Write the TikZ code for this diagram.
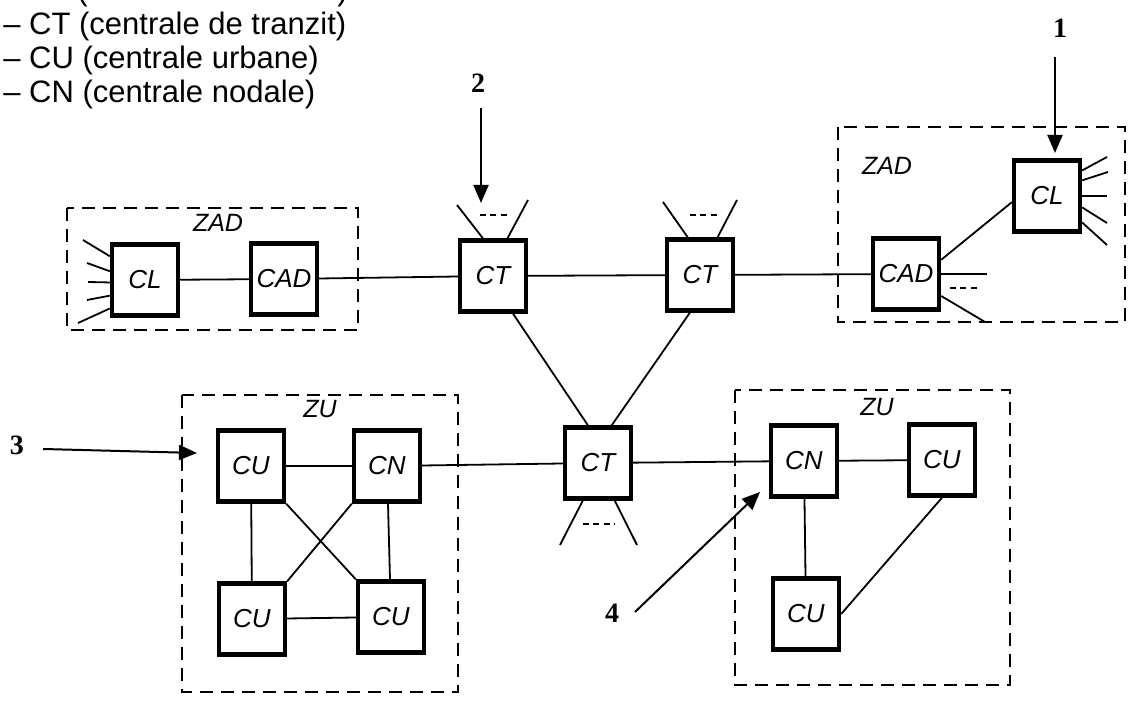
\documentclass[tikz,border=0pt]{standalone}
\usepackage{fontspec}
\setmainfont{Liberation Sans}
\newfontfamily\numfont{Liberation Serif}
\usetikzlibrary{arrows.meta}
\begin{document}
\begin{tikzpicture}[x=0.5pt,y=-0.5pt,
  box/.style={draw, line width=2.2pt, minimum width=33pt, minimum height=35.5pt,
    inner sep=0pt, font=\itshape\fontsize{13}{15}\selectfont},
  zone/.style={draw, line width=1pt, dash pattern=on 6.5pt off 4pt},
  link/.style={line width=0.9pt},
  more/.style={line width=0.9pt, dash pattern=on 3pt off 2.2pt},
  pointer/.style={line width=1pt, -{Triangle[length=9pt,width=7.5pt]}},
  zlabel/.style={font=\itshape\fontsize{12.5}{14}\selectfont, inner sep=0pt},
  num/.style={font=\numfont\bfseries\fontsize{14}{16}\selectfont, inner sep=0pt},
  legend/.style={font=\fontsize{15.5}{18}\selectfont, anchor=base west, inner sep=0pt}]
\useasboundingbox (0,0) rectangle (1132,715);
\clip (0,0) rectangle (1132,715);

% legend lines (the first one runs off the top edge)
\node[legend] (pa) at (77,1) {(};
\node[legend] (pb) at (337,1) {)};
\node[legend] (l1) at (3,35) {– CT (centrale de tranzit)};
\node[legend] (l2) at (3,69) {– CU (centrale urbane)};
\node[legend] (l3) at (3,103) {– CN (centrale nodale)};

% zones
\draw[zone] (67,208) rectangle (358,330);
\draw[zone] (838,127) rectangle (1125,322);
\draw[zone] (182,395) rectangle (458,692);
\draw[zone] (735,390) rectangle (1010,685);
\node[zlabel] (zl1) at (218,223) {ZAD};
\node[zlabel] (zl2) at (887,166) {ZAD};
\node[zlabel] (zl3) at (320,409) {ZU};
\node[zlabel] (zl4) at (877,407) {ZU};

% exchanges
\node[box] (cla) at (145,280) {CL};
\node[box] (cada) at (284,279) {CAD};
\node[box] (cta) at (493,276) {CT};
\node[box] (ctb) at (700,275) {CT};
\node[box] (cadb) at (906,274) {CAD};
\node[box] (clb) at (1047,196) {CL};
\node[box] (cua) at (251,466) {CU};
\node[box] (cna) at (387,466) {CN};
\node[box] (cub) at (252,619) {CU};
\node[box] (cuc) at (391,617) {CU};
\node[box] (ctc) at (598,463) {CT};
\node[box] (cnb) at (804,461) {CN};
\node[box] (cud) at (942,460) {CU};
\node[box] (cue) at (806,614) {CU};

% trunk links
\draw[link] (cla) -- (cada);
\draw[link] (cada) -- (cta);
\draw[link] (cta) -- (ctb);
\draw[link] (ctb) -- (cadb);
\draw[link] (cadb.22) -- (clb.190);
\draw[link] (cta.-62) -- (ctc.105);
\draw[link] (ctb.-105) -- (ctc.70);
\draw[link] (cna) -- (ctc);
\draw[link] (ctc) -- (cnb);

% left urban zone
\draw[link] (cua) -- (cna);
\draw[link] (cua) -- (cub);
\draw[link] (cna) -- (cuc);
\draw[link] (cub) -- (cuc);
\draw[link] (cua.south east) -- (cuc.north west);
\draw[link] (cna.south west) -- (cub.north east);

% right urban zone
\draw[link] (cnb) -- (cud);
\draw[link] (cnb) -- (cue);
\draw[link] (cud.south) -- (cue.east);

% subscriber lines of the local exchanges
\coordinate (sa1) at (83,240);
\coordinate (sa2) at (87,263);
\coordinate (sa3) at (88,282);
\coordinate (sa4) at (87,300);
\coordinate (sa5) at (78,323);
\draw[link] (cla.146) -- (sa1);
\draw[link] (cla.166) -- (sa2);
\draw[link] (cla.184) -- (sa3);
\draw[link] (cla.204) -- (sa4);
\draw[link] (cla.219) -- (sa5);
\coordinate (sb1) at (1107,157);
\coordinate (sb2) at (1108,172);
\coordinate (sb3) at (1107,196);
\coordinate (sb4) at (1107,223);
\coordinate (sb5) at (1107,245);
\draw[link] (clb.36) -- (sb1);
\draw[link] (clb.24) -- (sb2);
\draw[link] (clb.0) -- (sb3);
\draw[link] (clb.-18) -- (sb4);
\draw[link] (clb.-37) -- (sb5);

% open ends of the right CAD
\coordinate (cb1) at (987,274);
\coordinate (cb2) at (985,322);
\coordinate (cbd1) at (950,288);
\coordinate (cbd2) at (980,288);
\draw[link] (cadb.east) -- (cb1);
\draw[link] (cadb.-32) -- (cb2);
\draw[more] (cbd1) -- (cbd2);

% open ends of the transit exchanges
\coordinate (ta1) at (457,205);
\coordinate (ta2) at (528,200);
\coordinate (tad1) at (480,215);
\coordinate (tad2) at (507,215);
\draw[link] (cta.105.5) -- (ta1);
\draw[link] (cta.69) -- (ta2);
\draw[more] (tad1) -- (tad2);
\coordinate (tb1) at (663,202);
\coordinate (tb2) at (737,200);
\coordinate (tbd1) at (690,215);
\coordinate (tbd2) at (718,215);
\draw[link] (ctb.108) -- (tb1);
\draw[link] (ctb.65) -- (tb2);
\draw[more] (tbd1) -- (tbd2);
\coordinate (tc1) at (560,545);
\coordinate (tc2) at (637,545);
\coordinate (tcd1) at (583,524);
\coordinate (tcd2) at (615,524);
\draw[link] (ctc.-112) -- (tc1);
\draw[link] (ctc.-66) -- (tc2);
\draw[more] (tcd1) -- (tcd2);

% numbered pointers
\node[num] (n1) at (1060,28) {1};
\node[num] (n2) at (478,83) {2};
\node[num] (n3) at (17,445) {3};
\node[num] (n4) at (612,613) {4};
\coordinate (q1s) at (1055,57);
\coordinate (q1e) at (1055,153);
\coordinate (q2s) at (481,108);
\coordinate (q2e) at (481,203);
\coordinate (q3s) at (43,449);
\coordinate (q3e) at (197,453);
\coordinate (q4s) at (635,612);
\coordinate (q4e) at (760,492);
\draw[pointer] (q1s) -- (q1e);
\draw[pointer] (q2s) -- (q2e);
\draw[pointer] (q3s) -- (q3e);
\draw[pointer] (q4s) -- (q4e);
\end{tikzpicture}
\end{document}
